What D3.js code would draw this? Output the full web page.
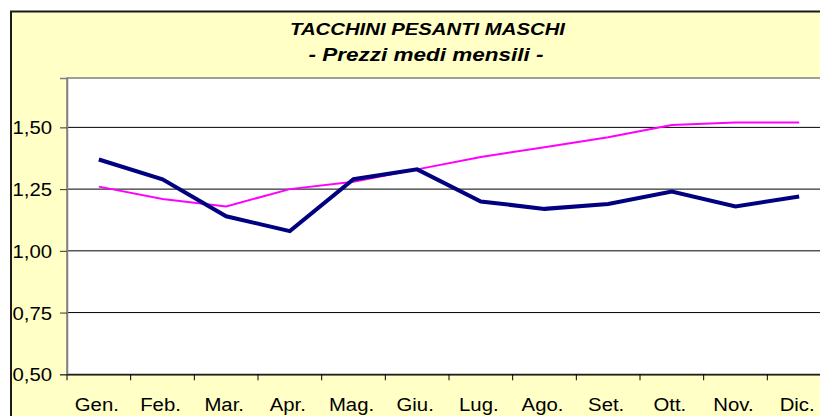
<!DOCTYPE html>
<html>
<head>
<meta charset="utf-8">
<script src="https://cdn.jsdelivr.net/npm/d3@7"></script>
<style>
  body { margin: 0; background: #fff; }
  svg { display: block; }
  text { font-family: "Liberation Sans", Arial, sans-serif; fill: #000; }
</style>
</head>
<body>
<script>
// Tacchini pesanti maschi - prezzi medi mensili
const months = ["Gen.", "Feb.", "Mar.", "Apr.", "Mag.", "Giu.", "Lug.", "Ago.", "Set.", "Ott.", "Nov.", "Dic."];
const navySeries = [1.37, 1.29, 1.14, 1.08, 1.29, 1.33, 1.20, 1.17, 1.19, 1.24, 1.18, 1.22];
const pinkSeries = [1.26, 1.21, 1.18, 1.25, 1.28, 1.33, 1.38, 1.42, 1.46, 1.51, 1.52, 1.52];
const yTicks = [0.50, 0.75, 1.00, 1.25, 1.50];

const width = 820, height = 416;
const plot = { left: 67, right: 831, top: 78, bottom: 374.3 };

const svg = d3.select("body")
    .append("svg")
    .attr("width", width)
    .attr("height", height);

// outer yellow frame (runs off the right and bottom edges)
svg.append("rect")
    .attr("x", 11).attr("y", 11.5)
    .attr("width", 830).attr("height", 430)
    .attr("fill", "#ffffc6")
    .attr("stroke", "#1a1a1a")
    .attr("stroke-width", 2);

// titles
svg.append("text")
    .attr("x", 427.5).attr("y", 35)
    .attr("text-anchor", "middle")
    .attr("textLength", 275).attr("lengthAdjust", "spacingAndGlyphs")
    .style("font-size", "17px").style("font-weight", "bold").style("font-style", "italic")
    .text("TACCHINI PESANTI MASCHI");

svg.append("text")
    .attr("x", 426).attr("y", 61)
    .attr("text-anchor", "middle")
    .attr("textLength", 235).attr("lengthAdjust", "spacingAndGlyphs")
    .style("font-size", "18px").style("font-weight", "bold").style("font-style", "italic")
    .text("- Prezzi medi mensili -");

const x = d3.scaleBand()
    .domain(months)
    .range([plot.left, plot.right]);

const y = d3.scaleLinear()
    .domain([0.5, 1.7])
    .range([plot.bottom, plot.top]);

// plot area
svg.append("rect")
    .attr("x", plot.left).attr("y", plot.top)
    .attr("width", plot.right - plot.left).attr("height", plot.bottom - plot.top)
    .attr("fill", "#fff")
    .attr("stroke", "#808080")
    .attr("stroke-width", 1.5);

// gridlines
svg.append("g")
    .selectAll("line")
    .data(yTicks.slice(1))
    .enter()
    .append("line")
    .attr("x1", plot.left).attr("x2", plot.right)
    .attr("y1", d => y(d)).attr("y2", d => y(d))
    .attr("stroke", "#000")
    .attr("stroke-width", 1);

const stretch = 1.13;

// y axis
const yAxis = svg.append("g")
    .attr("transform", `translate(${plot.left},0)`)
    .call(d3.axisLeft(y).tickValues(yTicks).tickSize(7).tickFormat(d => d3.format(".2f")(d).replace(".", ",")));
yAxis.select(".domain").attr("stroke", "#808080").attr("stroke-width", 1.5);
yAxis.selectAll(".tick line").attr("stroke", "#333");
yAxis.selectAll(".tick text")
    .attr("x", null).attr("dy", null)
    .attr("transform", `translate(-15,6.5) scale(${stretch},1)`)
    .style("font-size", "18px")
    .style("font-family", "'Liberation Sans', Arial, sans-serif");

// x axis
const xAxis = svg.append("g")
    .attr("transform", `translate(0,${plot.bottom})`)
    .call(d3.axisBottom(x).tickSize(0).tickPadding(0));
xAxis.select(".domain").attr("stroke", "#000").attr("stroke-width", 1.2);
xAxis.selectAll(".tick text")
    .attr("y", null).attr("dy", null)
    .attr("transform", `translate(-2,37) scale(${stretch},1)`)
    .style("font-size", "18px")
    .style("font-family", "'Liberation Sans', Arial, sans-serif");

// category tick marks on the boundaries
svg.append("g")
    .selectAll("line")
    .data(months)
    .enter()
    .append("line")
    .attr("x1", d => x(d)).attr("x2", d => x(d))
    .attr("y1", plot.bottom).attr("y2", plot.bottom + 6)
    .attr("stroke", "#000");

const line = d3.line()
    .x((d, i) => x(months[i]) + x.bandwidth() / 2)
    .y(d => y(d));

svg.append("path")
    .datum(pinkSeries)
    .attr("fill", "none")
    .attr("stroke", "#ff00ff")
    .attr("stroke-width", 2)
    .attr("d", line);

svg.append("path")
    .datum(navySeries)
    .attr("fill", "none")
    .attr("stroke", "#000080")
    .attr("stroke-width", 4)
    .attr("d", line);
</script>
</body>
</html>
